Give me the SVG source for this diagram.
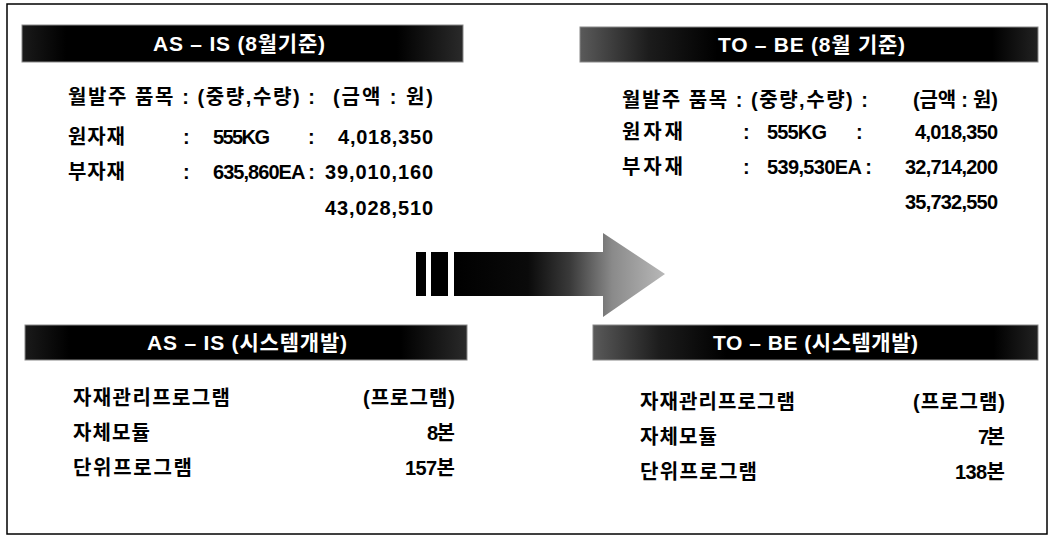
<svg xmlns="http://www.w3.org/2000/svg" width="1051" height="536" viewBox="0 0 1051 536">
<defs>
<style>
.t{font-family:"Liberation Sans","Noto Sans CJK KR",sans-serif;font-weight:bold;font-size:20px;fill:#000}
.h{font-family:"Liberation Sans","Noto Sans CJK KR",sans-serif;font-weight:bold;font-size:21px;fill:#fff}
.bar{stroke:#888;stroke-width:1}
</style>
<linearGradient id="gAs" x1="0" y1="0" x2="1" y2="0">
<stop offset="0" stop-color="#1a1a1a"/>
<stop offset="0.1" stop-color="#000"/>
<stop offset="0.85" stop-color="#000"/>
<stop offset="1" stop-color="#2a2a2a"/>
</linearGradient>
<linearGradient id="gTo" x1="0" y1="0" x2="1" y2="0">
<stop offset="0" stop-color="#5a5a5a"/>
<stop offset="0.15" stop-color="#1c1c1c"/>
<stop offset="0.3" stop-color="#000"/>
<stop offset="0.9" stop-color="#000"/>
<stop offset="1" stop-color="#222"/>
</linearGradient>
<linearGradient id="gArrow" gradientUnits="userSpaceOnUse" x1="454" y1="0" x2="665" y2="0">
<stop offset="0" stop-color="#000"/>
<stop offset="0.35" stop-color="#0a0a0a"/>
<stop offset="0.55" stop-color="#3a3a3a"/>
<stop offset="0.75" stop-color="#8a8a8a"/>
<stop offset="1" stop-color="#b8b8b8"/>
</linearGradient>
</defs>
<rect x="0" y="0" width="1051" height="536" fill="#fff"/>
<rect x="7" y="4" width="1040" height="530" fill="none" stroke="#000" stroke-width="1.5"/>

<g id="asis-order">
<rect class="bar" x="22" y="25" width="441" height="37" fill="url(#gAs)"/>
<text class="h" x="153" y="51" textLength="172" lengthAdjust="spacing">AS – IS (8월기준)</text>
<text class="t" x="68" y="104" textLength="247" lengthAdjust="spacing">월발주 품목 : (중량,수량) :</text>
<text class="t" x="333" y="104" textLength="100" lengthAdjust="spacing">(금액 : 원)</text>
<text class="t" x="68" y="144" textLength="57" lengthAdjust="spacing">원자재</text>
<text class="t" x="183" y="144">:</text>
<text class="t" x="213" y="144" textLength="57" lengthAdjust="spacing">555KG</text>
<text class="t" x="308" y="144">:</text>
<text class="t" x="338" y="144" textLength="95" lengthAdjust="spacing">4,018,350</text>
<text class="t" x="68" y="179" textLength="57" lengthAdjust="spacing">부자재</text>
<text class="t" x="183" y="179">:</text>
<text class="t" x="213" y="179" textLength="102" lengthAdjust="spacing">635,860EA :</text>
<text class="t" x="325" y="179" textLength="108" lengthAdjust="spacing">39,010,160</text>
<text class="t" x="325" y="215" textLength="108" lengthAdjust="spacing">43,028,510</text>
</g>

<g id="tobe-order">
<rect class="bar" x="580" y="27" width="458" height="35" fill="url(#gTo)"/>
<text class="h" x="718" y="52" textLength="187" lengthAdjust="spacing">TO – BE (8월 기준)</text>
<text class="t" x="622" y="107" textLength="246" lengthAdjust="spacing">월발주 품목 : (중량,수량) :</text>
<text class="t" x="913" y="107" textLength="85" lengthAdjust="spacing">(금액 : 원)</text>
<text class="t" x="622" y="139" textLength="61" lengthAdjust="spacing">원자재</text>
<text class="t" x="743" y="139">:</text>
<text class="t" x="767" y="139" textLength="60" lengthAdjust="spacing">555KG</text>
<text class="t" x="856" y="139">:</text>
<text class="t" x="915" y="139" textLength="83" lengthAdjust="spacing">4,018,350</text>
<text class="t" x="622" y="174" textLength="61" lengthAdjust="spacing">부자재</text>
<text class="t" x="743" y="174">:</text>
<text class="t" x="767" y="174" textLength="105" lengthAdjust="spacing">539,530EA :</text>
<text class="t" x="905" y="174" textLength="93" lengthAdjust="spacing">32,714,200</text>
<text class="t" x="905" y="209" textLength="93" lengthAdjust="spacing">35,732,550</text>
</g>

<g id="asis-system">
<rect class="bar" x="25" y="325" width="442" height="35" fill="url(#gAs)"/>
<text class="h" x="147" y="350" textLength="200" lengthAdjust="spacing">AS – IS (시스템개발)</text>
<text class="t" x="73" y="405" textLength="157" lengthAdjust="spacing">자재관리프로그램</text>
<text class="t" x="363" y="405" textLength="92" lengthAdjust="spacing">(프로그램)</text>
<text class="t" x="73" y="440" textLength="77" lengthAdjust="spacing">자체모듈</text>
<text class="t" x="427" y="440" textLength="28" lengthAdjust="spacing">8본</text>
<text class="t" x="73" y="475" textLength="119" lengthAdjust="spacing">단위프로그램</text>
<text class="t" x="405" y="475" textLength="50" lengthAdjust="spacing">157본</text>
</g>

<g id="tobe-system">
<rect class="bar" x="593" y="325" width="445" height="35" fill="url(#gTo)"/>
<text class="h" x="713" y="350" textLength="205" lengthAdjust="spacing">TO – BE (시스템개발)</text>
<text class="t" x="640" y="409" textLength="155" lengthAdjust="spacing">자재관리프로그램</text>
<text class="t" x="913" y="409" textLength="92" lengthAdjust="spacing">(프로그램)</text>
<text class="t" x="640" y="444" textLength="77" lengthAdjust="spacing">자체모듈</text>
<text class="t" x="978" y="444" textLength="27" lengthAdjust="spacing">7본</text>
<text class="t" x="640" y="479" textLength="117" lengthAdjust="spacing">단위프로그램</text>
<text class="t" x="955" y="479" textLength="50" lengthAdjust="spacing">138본</text>
</g>

<g id="connectors">
<rect x="416" y="252" width="10" height="44" fill="#000"/>
<rect x="431" y="252" width="17" height="44" fill="#000"/>
<path d="M454,252 L603,252 L603,233 L665,274 L603,317 L603,296 L454,296 Z" fill="url(#gArrow)"/>
</g>
</svg>
